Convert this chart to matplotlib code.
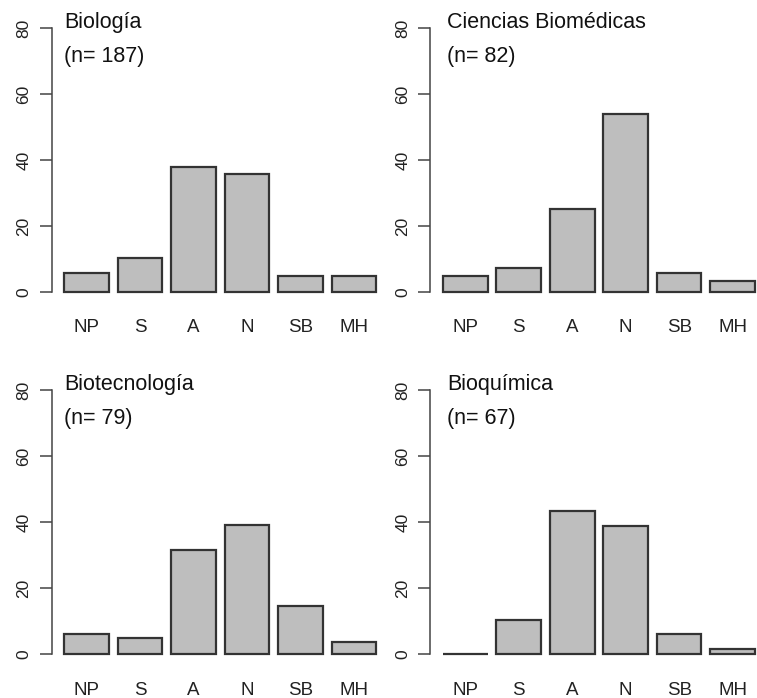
import numpy as np
import matplotlib.pyplot as plt

plt.rcParams['font.family'] = ['Liberation Sans', 'DejaVu Sans']

categorias = ['NP', 'S', 'A', 'N', 'SB', 'MH']
titulos = ['Biología', 'Ciencias Biomédicas', 'Biotecnología', 'Bioquímica']
n_total = [187, 82, 79, 67]

biologia = [5.9, 10.3, 38.0, 35.8, 4.9, 4.9]
biomedicas = [4.9, 7.3, 25.3, 53.9, 5.8, 3.2]
biotecnologia = [6.0, 5.0, 31.6, 39.0, 14.6, 3.7]
bioquimica = [0.0, 10.4, 43.3, 38.8, 6.0, 1.5]

valores = [biologia, biomedicas, biotecnologia, bioquimica]

W, H = 757, 698
fig = plt.figure(figsize=(W / 100, H / 100), dpi=100)

# (left px, bottom px of y=0, top px of y=80)
posiciones = [(51.7, 292.0, 28.3), (430.5, 292.0, 28.3),
              (51.7, 654.3, 390.0), (430.5, 654.3, 390.0)]

x = 0.7 + 1.2 * np.arange(len(categorias))
px_unit = 44.57

for i, (tit, n, vals) in enumerate(zip(titulos, n_total, valores)):
    left, y0, y80 = posiciones[i]
    ppu = (y0 - y80) / 80
    bottom = y0 + 3.2 * ppu
    top = y80 - 3.2 * ppu
    width = 7.56 * px_unit
    ax = fig.add_axes([left / W, 1 - bottom / H, width / W, (bottom - top) / H])
    ax.patch.set_alpha(0)
    ax.bar(x, vals, width=1.0, color='#bebebe', edgecolor='#333333', linewidth=1.6)
    ax.set_xlim(-0.08, 7.48)
    ax.set_ylim(-3.2, 83.2)
    for s in ['top', 'right', 'bottom']:
        ax.spines[s].set_visible(False)
    ax.spines['left'].set_bounds(0, 80)
    ax.spines['left'].set_color('#444444')
    ax.spines['left'].set_linewidth(1.1)
    ax.set_yticks([0, 20, 40, 60, 80])
    ax.set_yticklabels(['0', '20', '40', '60', '80'], rotation=90, va='center',
                       fontsize=12.5, color='#222222')
    ax.tick_params(axis='y', length=8.5, width=1.1, color='#444444', pad=6)
    ax.set_xticks(x)
    ax.set_xticklabels(categorias, fontsize=13.5, color='#222222')
    ax.tick_params(axis='x', length=0, pad=12)
    xt = 0.2 if i % 2 == 0 else 0.3
    ax.text(xt, 80, tit, fontsize=15.5, ha='left', va='baseline', color='#111111')
    ax.text(xt, 69.8, '(n= %d)' % n, fontsize=15.5, ha='left', va='baseline', color='#111111')

plt.savefig('out.png', dpi=100)
